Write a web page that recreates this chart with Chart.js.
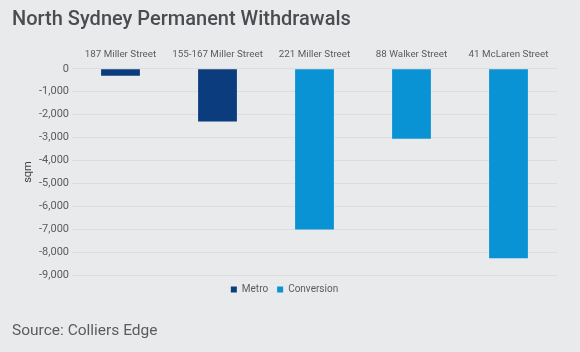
<!DOCTYPE html>
<html>
<head>
  <meta charset="utf-8">
  <title>North Sydney Permanent Withdrawals</title>
  <script src="https://cdn.jsdelivr.net/npm/chart.js@4/dist/chart.umd.min.js"></script>
  <style>
    html, body { margin:0; padding:0; background:#e9eaec; }
    #wrap { width:580px; height:352px; }
  </style>
</head>
<body>
  <div id="wrap">
    <canvas id="chart"></canvas>
  </div>
  <script>
  // chart data
  const buildings = ['187 Miller Street', '155-167 Miller Street', '221 Miller Street', '88 Walker Street', '41 McLaren Street'];
  const metro = [-300, -2300, null, null, null];
  const conversion = [null, null, -7000, -3050, -8250];
  const yMin = -9000;
  const yMax = 0;

  const ctx = document.getElementById('chart');
  const myChart = new Chart(ctx, {
    type: 'bar',
    data: {
      labels: buildings,
      datasets: [{
        label: 'Metro',
        data: metro,
        backgroundColor: '#0b3c7d',
      }, {
        label: 'Conversion',
        data: conversion,
        backgroundColor: '#0a93d4',
      }],
    },
    options: {
      responsive: true,
      maintainAspectRatio: false,
      animation: false,
      layout: { padding: { left: 12, right: 23, top: 8, bottom: 10 } },
      datasets: {
        bar: { barPercentage: 0.4, categoryPercentage: 1 }
      },
      scales: {
        x: {
          position: 'top',
          stacked: true,
          grid: { display: false, drawTicks: false },
          border: { display: false },
          ticks: {
            color: '#5a5c60',
            font: { family: 'Roboto', size: 9.8 },
            padding: 8,
            maxRotation: 0,
            autoSkip: false,
          },
        },
        y: {
          stacked: true,
          min: yMin,
          max: yMax,
          afterFit: function(scale){ scale.width = 60; },
          grid: { color: '#dcdde0', drawTicks: false },
          border: { display: false },
          ticks: {
            stepSize: 1000,
            color: '#5a5c60',
            padding: 3,
            font: { family: 'Roboto', size: 11 },
            callback: function(v){ return v.toLocaleString('en-US'); },
          },
          title: {
            display: true,
            text: 'sqm',
            color: '#3a3c40',
            font: { family: 'Roboto', size: 11 },
            padding: { top: 10, bottom: 0 },
          },
        },
      },
      plugins: {
        title: {
          display: true,
          text: 'North Sydney Permanent Withdrawals',
          align: 'start',
          color: '#4a4c50',
          font: { family: 'Roboto', size: 20, weight: '500' },
          padding: { top: 0, bottom: 9 },
        },
        subtitle: {
          display: true,
          position: 'bottom',
          text: 'Source: Colliers Edge',
          align: 'start',
          color: '#5a5c60',
          font: { family: 'Roboto', size: 15.5 },
          padding: { top: 17, bottom: 2 },
        },
        legend: {
          position: 'bottom',
          labels: {
            boxWidth: 6,
            boxHeight: 6,
            padding: 9,
            color: '#5a5c60',
            font: { family: 'Roboto', size: 10 },
          },
        },
        tooltip: { enabled: false },
      },
    },
  });
  </script>
</body>
</html>
